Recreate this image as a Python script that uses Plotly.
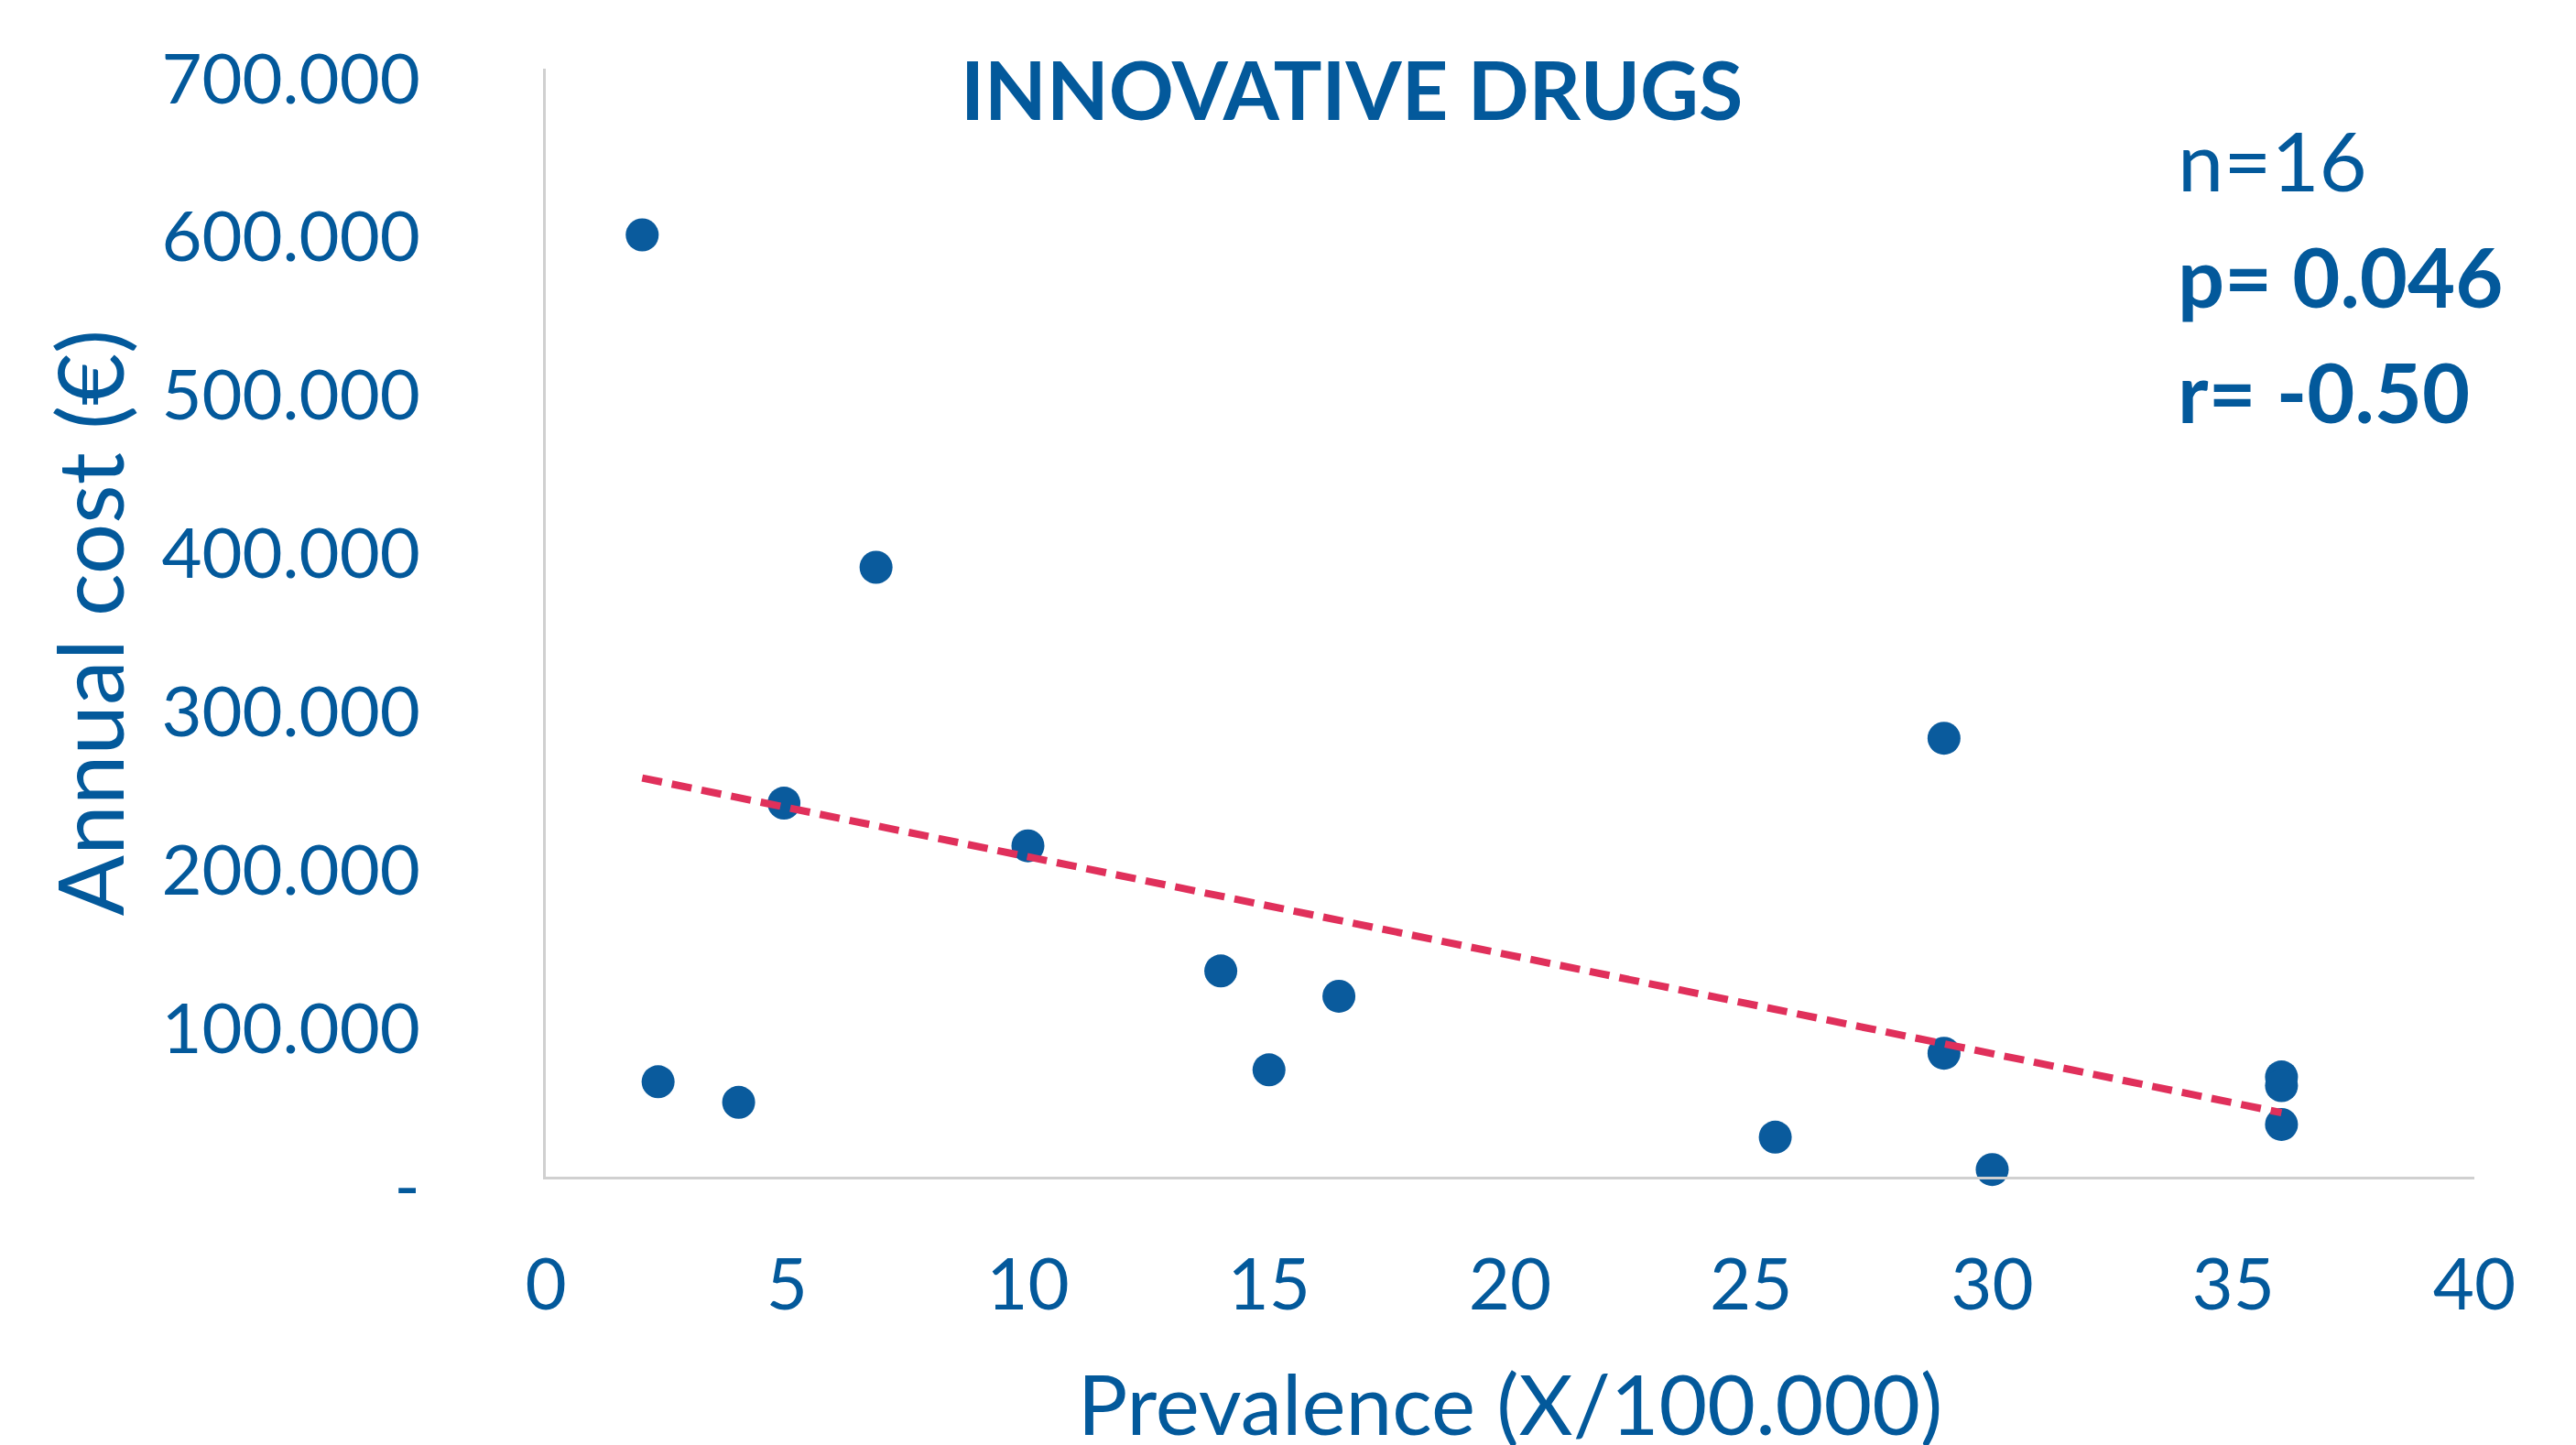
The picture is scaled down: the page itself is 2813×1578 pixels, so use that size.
import numpy as np
import plotly.graph_objects as go

# ---- data ----
prevalence = [2.0, 2.33, 4.0, 4.94, 6.85, 10.0, 14.0, 15.0, 16.45, 25.5, 29.0, 29.0, 30.0, 36.0, 36.0, 36.0]
annual_cost = [595000, 60000, 47000, 236000, 385000, 209000, 130000, 67500, 114000, 25000, 277000, 78000, 4500, 63000, 57500, 33000]

y_tickvals = [0, 100000, 200000, 300000, 400000, 500000, 600000, 700000]
y_ticktext = ["-", "100.000", "200.000", "300.000", "400.000", "500.000", "600.000", "700.000"]
x_tickvals = [0, 5, 10, 15, 20, 25, 30, 35, 40]

title_text = "INNOVATIVE DRUGS"
stats_lines = ["n=16", "<b>p= 0.046</b>", "<b>r= -0.50</b>"]

BLUE = "#03599b"
MARK = "#0a5b9d"
RED = "#e0305b"
FONT = "Lato"

# linear trend line (least squares) over the data range
slope, intercept = np.polyfit(prevalence, annual_cost, 1)
trend_x = [min(prevalence), max(prevalence)]
trend_y = [slope * v + intercept for v in trend_x]

fig = go.Figure()
fig.add_trace(go.Scatter(
    x=prevalence, y=annual_cost, mode="markers",
    marker=dict(size=36, color=MARK, line=dict(width=0)),
    showlegend=False, cliponaxis=False,
))
fig.add_trace(go.Scatter(
    x=trend_x, y=trend_y, mode="lines",
    line=dict(color=RED, width=8, dash="22px,11px"),
    showlegend=False,
))

# page body adds an 8px offset, compensated in the margins
fig.update_layout(
    width=2813, height=1578, autosize=False,
    paper_bgcolor="white", plot_bgcolor="white",
    margin=dict(l=588, r=119, t=67, b=301),
    font=dict(family=FONT, color=BLUE),
    xaxis=dict(
        range=[0, 40], tickvals=x_tickvals, showgrid=False, zeroline=False,
        showline=True, linecolor="#d0d0d0", linewidth=3,
        ticks="", ticklabelstandoff=48, automargin=False,
        tickfont=dict(family=FONT, size=78, color=BLUE),
        title=dict(text="Prevalence (X/100.000)", font=dict(family=FONT, size=91, color=BLUE), standoff=70),
    ),
    yaxis=dict(
        range=[0, 700000], tickvals=y_tickvals, ticktext=y_ticktext,
        showgrid=False, zeroline=False, automargin=False,
        showline=True, linecolor="#d0d0d0", linewidth=3,
        ticks="", ticklabelstandoff=119, ticklabelshift=11,
        tickfont=dict(family=FONT, size=76, color=BLUE),
        title=dict(text="Annual cost (€)", font=dict(family=FONT, size=98, color=BLUE), standoff=9),
    ),
)

fig.add_annotation(
    text="<b>" + title_text + "</b>", xref="paper", yref="paper",
    x=(1476 - 596) / 2106, y=1.0 + (75 - 97) / 1210, xanchor="center", yanchor="middle",
    showarrow=False, font=dict(family=FONT, size=88, color=BLUE),
)
stat_y = [174, 301, 427]
for txt, py in zip(stats_lines, stat_y):
    fig.add_annotation(
        text=txt, xref="paper", yref="paper",
        x=(2376 - 596) / 2106, y=1.0 - (py - 75) / 1210, xanchor="left", yanchor="middle",
        showarrow=False, font=dict(family=FONT, size=90, color=BLUE),
    )

fig.write_html("out.html")
